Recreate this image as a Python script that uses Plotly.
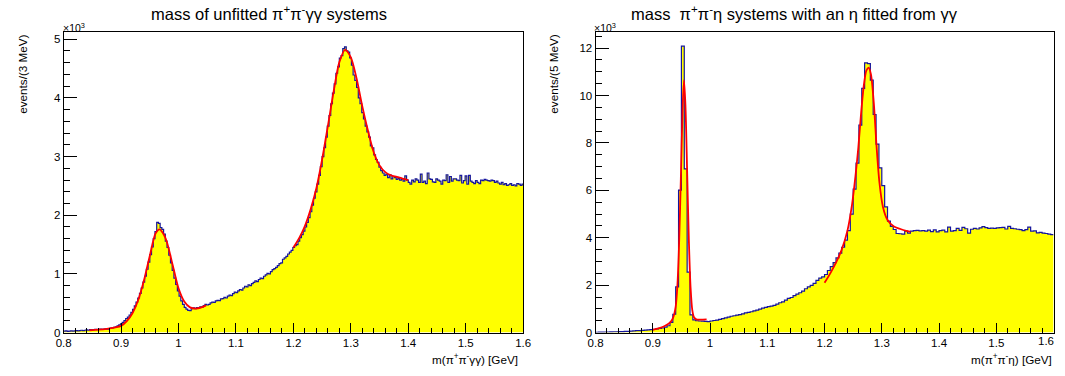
import numpy as np
import plotly.graph_objects as go

# ---------------- data ----------------
# Left: unfitted pi+pi-gg mass, 3 MeV bins starting at 0.8 GeV
left_bin_start = 0.8
left_bin_width = 0.003
left_counts = [
    25, 30, 20, 25, 30, 25, 30, 35, 30, 35,
    40, 35, 40, 45, 40, 50, 45, 50, 55, 50,
    55, 60, 55, 60, 65, 60, 70, 75, 80, 90,
    100, 115, 130, 150, 175, 205, 240, 265, 300, 345,
    395, 455, 520, 590, 670, 760, 860, 960, 1080, 1200,
    1330, 1460, 1600, 1720, 1880, 1860, 1790, 1760, 1680, 1560,
    1450, 1320, 1190, 1060, 930, 820, 710, 620, 540, 480,
    430, 400, 380, 375, 410, 420, 410, 425, 420, 440,
    435, 460, 480, 470, 480, 505, 520, 515, 540, 550,
    545, 575, 580, 600, 590, 620, 640, 630, 665, 690,
    680, 710, 735, 725, 760, 790, 780, 815, 800, 835,
    855, 880, 870, 905, 930, 920, 960, 985, 1010, 1000,
    1040, 1075, 1090, 1110, 1140, 1175, 1190, 1250, 1275, 1300,
    1340, 1370, 1400, 1450, 1480, 1500, 1560, 1620, 1670, 1730,
    1800, 1880, 1960, 2060, 2170, 2290, 2400, 2530, 2680, 2830,
    3000, 3150, 3330, 3520, 3700, 3900, 4080, 4240, 4420, 4530,
    4680, 4720, 4840, 4870, 4800, 4780, 4680, 4560, 4390, 4300,
    4180, 4000, 3900, 3750, 3640, 3520, 3420, 3330, 3180, 3150,
    3030, 2950, 2900, 2820, 2760, 2720, 2680, 2700, 2640, 2690,
    2620, 2660, 2640, 2610, 2630, 2600, 2620, 2580, 2670, 2600,
    2560, 2530, 2600, 2570, 2620, 2600, 2560, 2700, 2560, 2580,
    2540, 2720, 2620, 2610, 2570, 2560, 2620, 2600, 2580, 2530,
    2600, 2590, 2690, 2560, 2660, 2580, 2620, 2620, 2600, 2590,
    2680, 2550, 2590, 2670, 2530, 2680, 2580, 2560, 2540, 2590,
    2560, 2540, 2600, 2590, 2610, 2600, 2590, 2580, 2600, 2590,
    2560, 2580, 2550, 2530, 2560, 2520, 2540, 2510, 2520, 2540,
    2510, 2520, 2500, 2540, 2530, 2510, 2530,
]
# Left fit curves (red)
left_fit1_x = [0.845, 0.86, 0.875, 0.89, 0.90, 0.91, 0.92, 0.93, 0.94, 0.95,
               0.96, 0.967, 0.975, 0.98, 0.99, 1.00, 1.01, 1.02, 1.03, 1.04, 1.048]
left_fit1_y = [40, 50, 65, 90, 115, 195, 335, 560, 895, 1310,
               1690, 1760, 1660, 1535, 1145, 755, 530, 430, 410, 430, 465]
left_fit2_x = [1.20, 1.21, 1.22, 1.23, 1.24, 1.25, 1.26, 1.27, 1.28, 1.29,
               1.30, 1.31, 1.32, 1.33, 1.34, 1.35, 1.36, 1.37, 1.38, 1.39, 1.40]
left_fit2_y = [1450, 1610, 1815, 2100, 2460, 2950, 3520, 4105, 4610, 4820,
               4690, 4330, 3855, 3435, 3070, 2850, 2735, 2680, 2655, 2625, 2600]

# Right: pi+pi-eta mass, 5 MeV bins starting at 0.8 GeV
right_bin_start = 0.8
right_bin_width = 0.005
right_counts = [
    15, 20, 20, 25, 25, 30, 35, 35, 40, 45,
    50, 55, 60, 70, 80, 85, 95, 105, 115, 125,
    140, 155, 175, 195, 230, 290, 430, 775, 1925, 6010,
    12080, 6910, 2550, 750, 540, 500, 490, 480, 470, 465,
    490, 510, 530, 560, 590, 620, 650, 690, 710, 740,
    760, 790, 830, 850, 880, 920, 950, 990, 1030, 1060,
    1100, 1120, 1150, 1200, 1260, 1300, 1370, 1440, 1480, 1560,
    1620, 1680, 1750, 1850, 1930, 1990, 2080, 2200, 2300, 2350,
    2450, 2620, 2780, 2950, 3150, 3350, 3600, 3900, 4300, 5000,
    6050, 7150, 8750, 10300, 11380, 11350, 10650, 9200, 7950, 6950,
    6200, 5300, 4700, 4480, 4350, 4180, 4170, 4150, 4280, 4200,
    4280, 4300, 4310, 4290, 4300, 4280, 4320, 4260, 4330, 4250,
    4300, 4320, 4250, 4450, 4280, 4300, 4400, 4310, 4440, 4380,
    4200, 4360, 4400, 4370, 4420, 4470, 4430, 4400, 4410, 4400,
    4420, 4430, 4440, 4370, 4480, 4400, 4380, 4360, 4340, 4300,
    4340, 4450, 4280, 4290, 4210, 4230, 4200, 4180, 4150, 4130,
]
right_fit1_x = [0.900, 0.910, 0.920, 0.930, 0.935, 0.940, 0.943, 0.946, 0.949, 0.952,
                0.9545, 0.957, 0.960, 0.963, 0.966, 0.969, 0.972, 0.976, 0.982, 0.994]
right_fit1_y = [120, 180, 270, 420, 600, 1100, 2000, 3800, 6500, 9400,
                10650, 9600, 6800, 3900, 1900, 950, 650, 560, 545, 555]
right_fit2_x = [1.200, 1.210, 1.220, 1.230, 1.240, 1.248, 1.254, 1.259, 1.264, 1.269,
                1.273, 1.277, 1.281, 1.286, 1.291, 1.296, 1.302, 1.310, 1.320, 1.335, 1.350]
right_fit2_y = [2100, 2500, 2950, 3500, 4300, 5400, 6600, 7800, 9300, 10500,
                11050, 11180, 10900, 9700, 7800, 6300, 5300, 4750, 4500, 4350, 4250]

x_ticks = [0.8, 0.9, 1.0, 1.1, 1.2, 1.3, 1.4, 1.5, 1.6]
x_ticktext_left = ["0.8", "0.9", "1", "1.1", "1.2", "1.3", "1.4", "1.5", "1.6"]
# right panel: the last label sits at the canvas edge, drawn separately below
x_ticktext_right = ["0.8", "0.9", "1", "1.1", "1.2", "1.3", "1.4", "1.5", ""]
left_yticks = [0, 1000, 2000, 3000, 4000, 5000]
left_ytext = ["0", "1", "2", "3", "4", "5"]
right_yticks = [0, 2000, 4000, 6000, 8000, 10000, 12000]
right_ytext = ["0", "2", "4", "6", "8", "10", "12"]

# ---------------- figure ----------------
W, H = 1065, 376
FONT = "Liberation Sans, Arial, sans-serif"
HIST_LINE = "#14149e"
YELLOW = "#ffff00"
TICK_SIZE = 11.5
AXTITLE_SIZE = 11.7
TITLE_SIZE = 16.5

def px_x(p):
    return p / W

def px_y(p):
    return 1 - p / H

def hist_trace(start, width, counts, xa, ya):
    edges = start + width * np.arange(len(counts) + 1)
    yy = list(counts) + [counts[-1]]
    return go.Scatter(x=edges, y=yy, mode="lines", line_shape="hv",
                      line=dict(color=HIST_LINE, width=1.2),
                      fill="tozeroy", fillcolor=YELLOW,
                      xaxis=xa, yaxis=ya, hoverinfo="skip", showlegend=False)

def fit_trace(xs, ys, xa, ya):
    return go.Scatter(x=xs, y=ys, mode="lines", line_shape="spline",
                      line=dict(color="#ff0000", width=1.8, smoothing=0.8),
                      xaxis=xa, yaxis=ya, hoverinfo="skip", showlegend=False)

fig = go.Figure()
fig.add_trace(hist_trace(left_bin_start, left_bin_width, left_counts, "x", "y"))
fig.add_trace(fit_trace(left_fit1_x, left_fit1_y, "x", "y"))
fig.add_trace(fit_trace(left_fit2_x, left_fit2_y, "x", "y"))
fig.add_trace(hist_trace(right_bin_start, right_bin_width, right_counts, "x2", "y2"))
fig.add_trace(fit_trace(right_fit1_x, right_fit1_y, "x2", "y2"))
fig.add_trace(fit_trace(right_fit2_x, right_fit2_y, "x2", "y2"))

y_bot = px_y(338)
y_top = px_y(33)

def xaxis_cfg(d0, d1, anchor, ticktext):
    return dict(domain=[d0, d1], anchor=anchor, range=[0.8, 1.6],
                tickmode="array", tickvals=x_ticks, ticktext=ticktext,
                ticks="inside", ticklen=10, tickwidth=1, tickcolor="black",
                minor=dict(dtick=0.02, tick0=0.8, ticks="inside", ticklen=5,
                           tickwidth=1, tickcolor="black"),
                showline=True, linecolor="black", linewidth=1, mirror=True,
                showgrid=False, zeroline=False, fixedrange=True,
                tickfont=dict(family=FONT, size=TICK_SIZE, color="black"))

def yaxis_cfg(anchor, ymax, tv, tt, minor_dt):
    return dict(domain=[y_bot, y_top], anchor=anchor, range=[0, ymax],
                tickmode="array", tickvals=tv, ticktext=tt,
                ticks="inside", ticklen=13, tickwidth=1, tickcolor="black",
                minor=dict(dtick=minor_dt, tick0=0, ticks="inside", ticklen=6,
                           tickwidth=1, tickcolor="black"),
                showline=True, linecolor="black", linewidth=1, mirror=True,
                showgrid=False, zeroline=False, fixedrange=True,
                tickfont=dict(family=FONT, size=TICK_SIZE, color="black"))

fig.update_layout(
    width=W, height=H,
    margin=dict(l=0, r=0, t=0, b=0),
    paper_bgcolor="white", plot_bgcolor="white",
    showlegend=False, hovermode=False,
    xaxis=xaxis_cfg(px_x(56.5), px_x(523), "y", x_ticktext_left),
    yaxis=yaxis_cfg("x", 5115, left_yticks, left_ytext, 200),
    xaxis2=xaxis_cfg(px_x(596.5), px_x(1061.5), "y2", x_ticktext_right),
    yaxis2=yaxis_cfg("x2", 12660, right_yticks, right_ytext, 500),
)

def ann(text, x, y, size, xanchor="center", yanchor="middle", angle=0):
    fig.add_annotation(text=text, x=px_x(x), y=px_y(y), xref="paper", yref="paper",
                       xanchor=xanchor, yanchor=yanchor, showarrow=False,
                       textangle=angle, borderpad=0,
                       font=dict(family=FONT, size=size, color="black"))

# titles
ann("mass of unfitted π<sup>+</sup>π<sup>-</sup>γγ systems", 265, 13, TITLE_SIZE)
ann("mass  π<sup>+</sup>π<sup>-</sup>η systems with an η fitted from γγ", 798, 13, TITLE_SIZE)
# exponent labels
ann("×10<sup>3</sup>", 55, 28, 10.5, xanchor="left")
ann("×10<sup>3</sup>", 594, 28, 10.5, xanchor="left")
# y titles
ann("events/(3 MeV)", 15, 34, AXTITLE_SIZE, yanchor="top", angle=-90)
ann("events/(5 MeV)", 554, 34, AXTITLE_SIZE, yanchor="top", angle=-90)
# x titles
ann("m(π<sup>+</sup>π<sup>-</sup>γγ) [GeV]", 519, 365, AXTITLE_SIZE, xanchor="right")
ann("m(π<sup>+</sup>π<sup>-</sup>η) [GeV]", 1061, 365, AXTITLE_SIZE, xanchor="right")
# last tick label of the right panel, kept inside the canvas
ann("1.6", 1063, 347, TICK_SIZE, xanchor="right")

# remove the default 8 px page margin so the figure fills the window exactly
fig.write_html("out.html", config={"displayModeBar": False, "staticPlot": True},
               post_script="document.body.style.margin='0';")
